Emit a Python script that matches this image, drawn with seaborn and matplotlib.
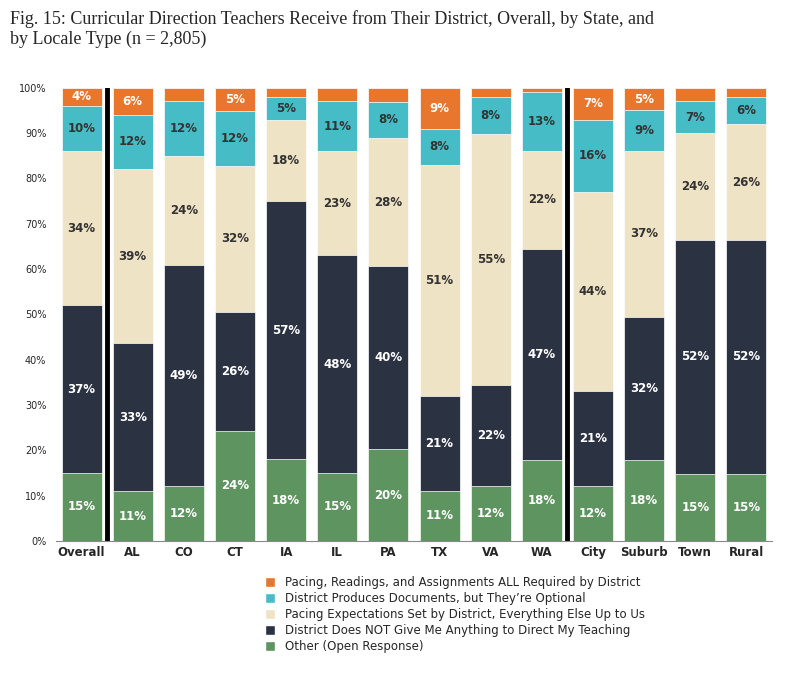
import numpy as np
import pandas as pd
import matplotlib
matplotlib.use("Agg")
import matplotlib.pyplot as plt
import seaborn as sns
from matplotlib.patches import Patch

groups = ["Overall", "AL", "CO", "CT", "IA", "IL", "PA", "TX", "VA", "WA",
          "City", "Suburb", "Town", "Rural"]
other = [15, 11, 12, 24, 18, 15, 20, 11, 12, 18, 12, 18, 15, 15]
nothing = [37, 33, 49, 26, 57, 48, 40, 21, 22, 47, 21, 32, 52, 52]
pacing = [34, 39, 24, 32, 18, 23, 28, 51, 55, 22, 44, 37, 24, 26]
optional = [10, 12, 12, 12, 5, 11, 8, 8, 8, 13, 16, 9, 7, 6]
required = [4, 6, 3, 5, 2, 3, 3, 9, 2, 1, 7, 5, 3, 2]

series_names = [
    "Other (Open Response)",
    "District Does NOT Give Me Anything to Direct My Teaching",
    "Pacing Expectations Set by District, Everything Else Up to Us",
    "District Produces Documents, but They\u2019re Optional",
    "Pacing, Readings, and Assignments ALL Required by District",
]
colors = ["#5E9460", "#2B3242", "#EFE3C6", "#46BDC6", "#E8762C"]
text_colors = ["white", "white", "#333333", "#333333", "white"]

sns.set_style("white")
plt.rcParams["font.family"] = ["DejaVu Sans"]

vals = np.array([other, nothing, pacing, optional, required], dtype=float)
scaled = vals / vals.sum(axis=0) * 100
cum = np.cumsum(scaled, axis=0)

fig = plt.figure(figsize=(8, 6.76), dpi=100)
ax = fig.add_axes([0.07, 0.2, 0.895, 0.67])

for i in range(4, -1, -1):
    df = pd.DataFrame({"group": groups, "top": cum[i]})
    sns.barplot(data=df, x="group", y="top", color=colors[i], width=0.78,
                saturation=1, ax=ax, edgecolor="white", linewidth=0.5)

for i in range(5):
    for j in range(len(groups)):
        if vals[i, j] >= 4:
            mid = cum[i, j] - scaled[i, j] / 2
            ax.text(j, mid, f"{int(vals[i, j])}%", ha="center", va="center",
                    fontsize=8.5, color=text_colors[i], fontweight="bold")

for xpos in [0.5, 9.5]:
    ax.axvline(xpos, color="black", linewidth=3.5)

ax.set_ylim(0, 100)
ax.set_xlim(-0.5, len(groups) - 0.5)
ax.set_yticks(range(0, 101, 10))
ax.set_yticklabels([f"{t}%" for t in range(0, 101, 10)], fontsize=7)
ax.tick_params(axis="x", labelsize=8.5, length=0)
for lab in ax.get_xticklabels():
    lab.set_fontweight("bold")
ax.set_xlabel("")
ax.set_ylabel("")
sns.despine(ax=ax, left=True, bottom=False)
ax.spines["bottom"].set_color("#888888")

fig.text(0.012, 0.985,
         "Fig. 15: Curricular Direction Teachers Receive from Their District, Overall, by State, and\nby Locale Type (n = 2,805)",
         ha="left", va="top", fontsize=13, family=["Liberation Serif", "DejaVu Serif"])

handles = [Patch(facecolor=colors[i], label=series_names[i]) for i in range(4, -1, -1)]
fig.legend(handles=handles, loc="upper left", bbox_to_anchor=(0.325, 0.155),
           frameon=False, fontsize=8.5, handlelength=0.9, handleheight=0.9,
           labelspacing=0.25, borderaxespad=0)

fig.savefig("out.png", dpi=100)
